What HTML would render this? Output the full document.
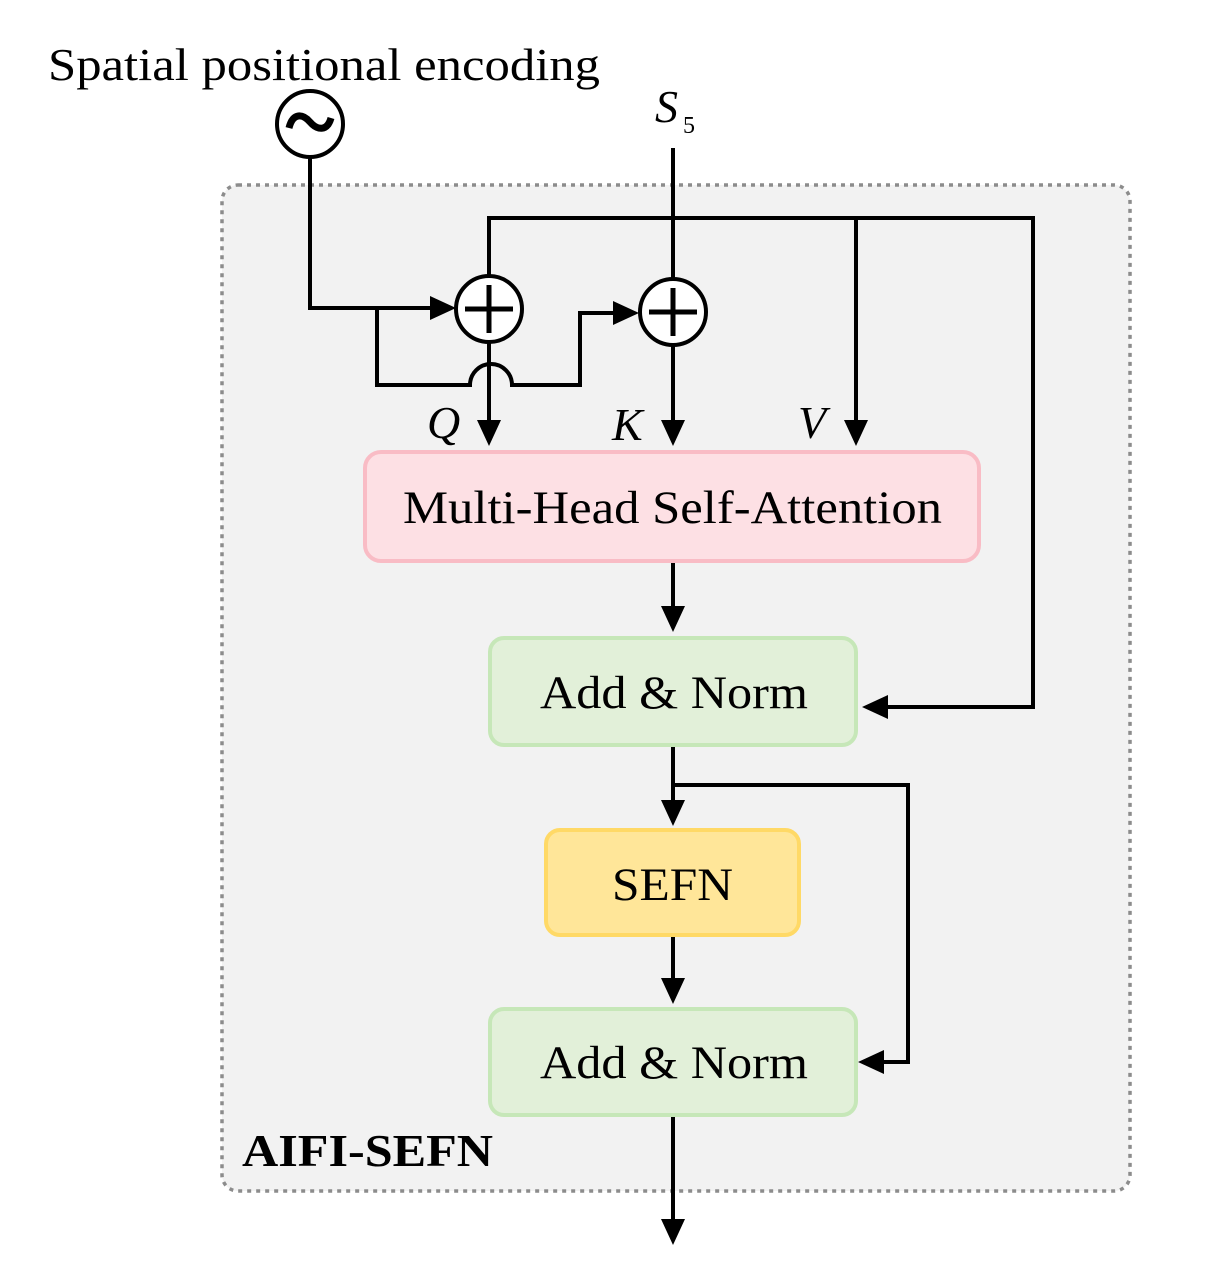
<!DOCTYPE html>
<html><head><style>
body{margin:0;background:#fff;}
svg{display:block;font-family:"Liberation Serif",serif;}
</style></head><body>
<svg width="1216" height="1267" viewBox="0 0 1216 1267" xmlns="http://www.w3.org/2000/svg">
<rect x="222" y="185" width="908" height="1006" rx="16" fill="#f2f2f2" stroke="#8c8c8c" stroke-width="3.5" stroke-dasharray="4,5"/>
<text x="48" y="80" font-size="46" textLength="552" lengthAdjust="spacingAndGlyphs">Spatial positional encoding</text>
<text x="655" y="122" font-size="46" font-style="italic">S</text>
<text x="683" y="133" font-size="24">5</text>
<g stroke="#000" stroke-width="4" fill="none">
<path d="M310,157 V308 H440"/>
<path d="M377,308 V385 H470 A21,21 0 0 1 512,385 H580 V313 H622"/>
<path d="M489,276 V218 H1033 V707 H885"/>
<path d="M673,148 V280"/>
<path d="M856,218 V424"/>
<path d="M489,342 V424"/>
<path d="M673,345 V424"/>
<path d="M673,563 V610"/>
<path d="M673,747 V802"/>
<path d="M673,785 H908 V1062 H882"/>
<path d="M673,937 V982"/>
<path d="M673,1117 V1222"/>
</g>
<g fill="#000">
<polygon points="456,308 430,296 430,320"/>
<polygon points="639,313 613,301 613,325"/>
<polygon points="489,446 477,420 501,420"/>
<polygon points="673,446 661,420 685,420"/>
<polygon points="856,446 844,420 868,420"/>
<polygon points="673,632 661,606 685,606"/>
<polygon points="673,826 661,800 685,800"/>
<polygon points="673,1004 661,978 685,978"/>
<polygon points="673,1245 661,1219 685,1219"/>
<polygon points="862,707 888,695 888,719"/>
<polygon points="858,1062 884,1050 884,1074"/>
</g>
<circle cx="310" cy="124" r="33" fill="#fff" stroke="#000" stroke-width="4"/>
<path d="M289,128 C293,112 303,114 310,122 C317,130 327,132 331,118" stroke="#000" stroke-width="7" fill="none"/>
<g stroke="#000" stroke-width="4" fill="#fff">
<circle cx="489" cy="309" r="33"/>
<circle cx="673" cy="312" r="33"/>
<path d="M465,309 H513 M489,285 V333 M649,312 H697 M673,288 V336" stroke-width="5"/>
</g>
<text x="427" y="438" font-size="46" font-style="italic">Q</text>
<text x="612" y="440" font-size="46" font-style="italic">K</text>
<text x="798" y="438" font-size="46" font-style="italic">V</text>
<rect x="365" y="452" width="614" height="109" rx="16" fill="#fde0e4" stroke="#f9bcc5" stroke-width="4"/>
<text x="403" y="523" font-size="47" textLength="539" lengthAdjust="spacingAndGlyphs">Multi-Head Self-Attention</text>
<rect x="490" y="638" width="366" height="107" rx="14" fill="#e2f0d9" stroke="#c6e7b8" stroke-width="4"/>
<text x="540" y="708" font-size="47" textLength="268" lengthAdjust="spacingAndGlyphs">Add &amp; Norm</text>
<rect x="546" y="830" width="253" height="105" rx="14" fill="#ffe699" stroke="#ffd966" stroke-width="4"/>
<text x="612" y="900" font-size="47" textLength="121" lengthAdjust="spacingAndGlyphs">SEFN</text>
<rect x="490" y="1009" width="366" height="106" rx="14" fill="#e2f0d9" stroke="#c6e7b8" stroke-width="4"/>
<text x="540" y="1078" font-size="47" textLength="268" lengthAdjust="spacingAndGlyphs">Add &amp; Norm</text>
<text x="242" y="1166" font-size="46" font-weight="bold" textLength="251" lengthAdjust="spacingAndGlyphs">AIFI-SEFN</text>
</svg>
</body></html>
